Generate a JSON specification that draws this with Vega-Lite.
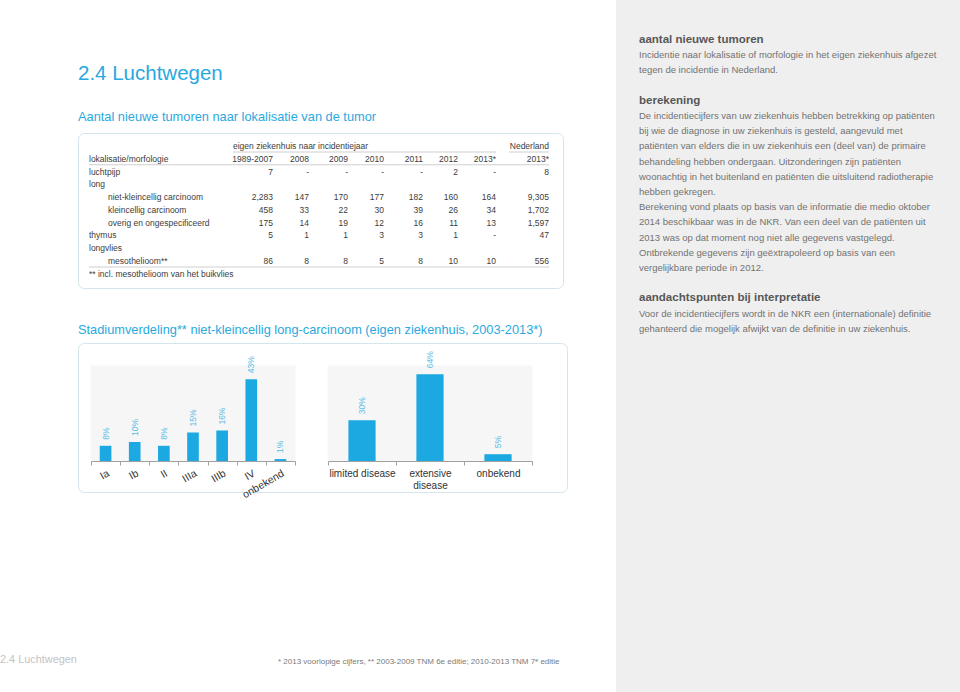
{
  "$schema": "https://vega.github.io/schema/vega-lite/v6.json",
  "padding": 0,
  "background": "#ffffff",
  "config": {"font": "Liberation Sans", "view": {"stroke": null}},
  "spacing": 0,
  "bounds": "full",
  "datasets": {
    "cells": [
      {"r": 0, "c": 1, "kind": "head", "t": "eigen ziekenhuis naar incidentiejaar"},
      {"r": 0, "c": 8, "kind": "num", "t": "Nederland"},
      {"r": 1, "c": 0, "kind": "label", "t": "lokalisatie/morfologie"},
      {"r": 1, "c": 1, "kind": "num", "t": "1989-2007"},
      {"r": 1, "c": 2, "kind": "num", "t": "2008"},
      {"r": 1, "c": 3, "kind": "num", "t": "2009"},
      {"r": 1, "c": 4, "kind": "num", "t": "2010"},
      {"r": 1, "c": 5, "kind": "num", "t": "2011"},
      {"r": 1, "c": 6, "kind": "num", "t": "2012"},
      {"r": 1, "c": 7, "kind": "num", "t": "2013*"},
      {"r": 1, "c": 8, "kind": "num", "t": "2013*"},
      {"r": 2, "c": 0, "kind": "label", "t": "luchtpijp"},
      {"r": 2, "c": 1, "kind": "num", "t": "7"},
      {"r": 2, "c": 2, "kind": "num", "t": "-"},
      {"r": 2, "c": 3, "kind": "num", "t": "-"},
      {"r": 2, "c": 4, "kind": "num", "t": "-"},
      {"r": 2, "c": 5, "kind": "num", "t": "-"},
      {"r": 2, "c": 6, "kind": "num", "t": "2"},
      {"r": 2, "c": 7, "kind": "num", "t": "-"},
      {"r": 2, "c": 8, "kind": "num", "t": "8"},
      {"r": 3, "c": 0, "kind": "label", "t": "long"},
      {"r": 4, "c": 0, "kind": "sub", "t": "niet-kleincellig carcinoom"},
      {"r": 4, "c": 1, "kind": "num", "t": "2,283"},
      {"r": 4, "c": 2, "kind": "num", "t": "147"},
      {"r": 4, "c": 3, "kind": "num", "t": "170"},
      {"r": 4, "c": 4, "kind": "num", "t": "177"},
      {"r": 4, "c": 5, "kind": "num", "t": "182"},
      {"r": 4, "c": 6, "kind": "num", "t": "160"},
      {"r": 4, "c": 7, "kind": "num", "t": "164"},
      {"r": 4, "c": 8, "kind": "num", "t": "9,305"},
      {"r": 5, "c": 0, "kind": "sub", "t": "kleincellig carcinoom"},
      {"r": 5, "c": 1, "kind": "num", "t": "458"},
      {"r": 5, "c": 2, "kind": "num", "t": "33"},
      {"r": 5, "c": 3, "kind": "num", "t": "22"},
      {"r": 5, "c": 4, "kind": "num", "t": "30"},
      {"r": 5, "c": 5, "kind": "num", "t": "39"},
      {"r": 5, "c": 6, "kind": "num", "t": "26"},
      {"r": 5, "c": 7, "kind": "num", "t": "34"},
      {"r": 5, "c": 8, "kind": "num", "t": "1,702"},
      {"r": 6, "c": 0, "kind": "sub", "t": "overig en ongespecificeerd"},
      {"r": 6, "c": 1, "kind": "num", "t": "175"},
      {"r": 6, "c": 2, "kind": "num", "t": "14"},
      {"r": 6, "c": 3, "kind": "num", "t": "19"},
      {"r": 6, "c": 4, "kind": "num", "t": "12"},
      {"r": 6, "c": 5, "kind": "num", "t": "16"},
      {"r": 6, "c": 6, "kind": "num", "t": "11"},
      {"r": 6, "c": 7, "kind": "num", "t": "13"},
      {"r": 6, "c": 8, "kind": "num", "t": "1,597"},
      {"r": 7, "c": 0, "kind": "label", "t": "thymus"},
      {"r": 7, "c": 1, "kind": "num", "t": "5"},
      {"r": 7, "c": 2, "kind": "num", "t": "1"},
      {"r": 7, "c": 3, "kind": "num", "t": "1"},
      {"r": 7, "c": 4, "kind": "num", "t": "3"},
      {"r": 7, "c": 5, "kind": "num", "t": "3"},
      {"r": 7, "c": 6, "kind": "num", "t": "1"},
      {"r": 7, "c": 7, "kind": "num", "t": "-"},
      {"r": 7, "c": 8, "kind": "num", "t": "47"},
      {"r": 8, "c": 0, "kind": "label", "t": "longvlies"},
      {"r": 9, "c": 0, "kind": "sub", "t": "mesothelioom**"},
      {"r": 9, "c": 1, "kind": "num", "t": "86"},
      {"r": 9, "c": 2, "kind": "num", "t": "8"},
      {"r": 9, "c": 3, "kind": "num", "t": "8"},
      {"r": 9, "c": 4, "kind": "num", "t": "5"},
      {"r": 9, "c": 5, "kind": "num", "t": "8"},
      {"r": 9, "c": 6, "kind": "num", "t": "10"},
      {"r": 9, "c": 7, "kind": "num", "t": "10"},
      {"r": 9, "c": 8, "kind": "num", "t": "556"},
      {"r": 10, "c": 0, "kind": "label", "t": "** incl. mesothelioom van het buikvlies"}
    ],
    "rules": [
      {"r": 0, "from": 1, "to": 7, "seg": "part"},
      {"r": 0, "from": 8, "to": 8, "seg": "part"},
      {"r": 1, "from": 0, "to": 8, "seg": "full"},
      {"r": 9, "from": 0, "to": 8, "seg": "full"}
    ],
    "stage": [
      {"stadium": "Ia", "share": 0.08},
      {"stadium": "Ib", "share": 0.10},
      {"stadium": "II", "share": 0.08},
      {"stadium": "IIIa", "share": 0.15},
      {"stadium": "IIIb", "share": 0.16},
      {"stadium": "IV", "share": 0.43},
      {"stadium": "onbekend", "share": 0.01}
    ],
    "sclc": [
      {"stadium": "limited disease", "share": 0.30},
      {"stadium": "extensive disease", "share": 0.64},
      {"stadium": "onbekend", "share": 0.05}
    ],
    "notes": [
      {"line": 0, "kind": "h", "text": "aantal nieuwe tumoren"},
      {"line": 1, "kind": "p", "text": "Incidentie naar lokalisatie of morfologie in het eigen ziekenhuis afgezet"},
      {"line": 2, "kind": "p", "text": "tegen de incidentie in Nederland."},
      {"line": 4, "kind": "h", "text": "berekening"},
      {"line": 5, "kind": "p", "text": "De incidentiecijfers van uw ziekenhuis hebben betrekking op patiënten"},
      {"line": 6, "kind": "p", "text": "bij wie de diagnose in uw ziekenhuis is gesteld, aangevuld met"},
      {"line": 7, "kind": "p", "text": "patiënten van elders die in uw ziekenhuis een (deel van) de primaire"},
      {"line": 8, "kind": "p", "text": "behandeling hebben ondergaan. Uitzonderingen zijn patiënten"},
      {"line": 9, "kind": "p", "text": "woonachtig in het buitenland en patiënten die uitsluitend radiotherapie"},
      {"line": 10, "kind": "p", "text": "hebben gekregen."},
      {"line": 11, "kind": "p", "text": "Berekening vond plaats op basis van de informatie die medio oktober"},
      {"line": 12, "kind": "p", "text": "2014 beschikbaar was in de NKR. Van een deel van de patiënten uit"},
      {"line": 13, "kind": "p", "text": "2013 was op dat moment nog niet alle gegevens vastgelegd."},
      {"line": 14, "kind": "p", "text": "Ontbrekende gegevens zijn geëxtrapoleerd op basis van een"},
      {"line": 15, "kind": "p", "text": "vergelijkbare periode in 2012."},
      {"line": 17, "kind": "h", "text": "aandachtspunten bij interpretatie"},
      {"line": 18, "kind": "p", "text": "Voor de incidentiecijfers wordt in de NKR een (internationale) definitie"},
      {"line": 19, "kind": "p", "text": "gehanteerd die mogelijk afwijkt van de definitie in uw ziekenhuis."}
    ]
  },
  "hconcat": [
    {
      "width": 77,
      "height": 692,
      "data": {"values": [{"text": "2.4 Luchtwegen"}]},
      "mark": {"type": "text", "align": "left", "baseline": "middle", "fontSize": 10.9, "color": "#c4c4c4"},
      "encoding": {"x": {"value": 0}, "y": {"value": 660}, "text": {"field": "text"}}
    },
    {
      "spacing": 0,
      "bounds": "flush",
      "vconcat": [
        {
          "width": 538,
          "height": 133,
          "layer": [
            {
              "data": {"values": [{"text": "2.4 Luchtwegen"}]},
              "mark": {"type": "text", "align": "left", "baseline": "middle", "fontSize": 20.5, "color": "#29a9e0"},
              "encoding": {"x": {"value": 0}, "y": {"value": 74}, "text": {"field": "text"}}
            },
            {
              "data": {"values": [{"text": "Aantal nieuwe tumoren naar lokalisatie van de tumor"}]},
              "mark": {"type": "text", "align": "left", "baseline": "middle", "fontSize": 12.8, "color": "#29a9e0"},
              "encoding": {"x": {"value": 0}, "y": {"value": 117}, "text": {"field": "text"}}
            }
          ]
        },
        {
          "width": 485,
          "height": 155,
          "view": {"stroke": "#d3e6eb", "strokeWidth": 1, "cornerRadius": 6},
          "layer": [
            {
              "data": {"name": "rules"},
              "transform": [{"filter": "datum.seg == 'full'"}],
              "mark": {"type": "rule", "color": "#cfcfcf", "strokeWidth": 1, "yOffset": 6},
              "encoding": {
                "x": {"field": "from", "type": "quantitative", "scale": {"domain": [0, 1, 2, 3, 4, 5, 6, 7, 8], "range": [11, 195, 231, 270, 306, 345, 380, 418, 471], "nice": false, "zero": false}, "axis": null},
                "x2": {"field": "to"},
                "y": {"field": "r", "type": "quantitative", "scale": {"domain": [0, 9], "range": [13, 128], "nice": false, "zero": false}, "axis": null}
              }
            },
            {
              "data": {"name": "rules"},
              "transform": [{"filter": "datum.seg == 'part'"}],
              "mark": {"type": "rule", "color": "#cfcfcf", "strokeWidth": 1, "yOffset": 6, "xOffset": -40},
              "encoding": {
                "x": {"field": "from", "type": "quantitative", "scale": {"domain": [0, 1, 2, 3, 4, 5, 6, 7, 8], "range": [11, 195, 231, 270, 306, 345, 380, 418, 471], "nice": false, "zero": false}, "axis": null},
                "x2": {"field": "to"},
                "y": {"field": "r", "type": "quantitative", "scale": {"domain": [0, 9], "range": [13, 128], "nice": false, "zero": false}, "axis": null}
              }
            },
            {
              "data": {"name": "cells"},
              "transform": [{"filter": "datum.kind == 'label'"}],
              "mark": {"type": "text", "align": "left", "baseline": "middle", "fontSize": 8.5, "color": "#3c3c3c"},
              "encoding": {
                "x": {"field": "c", "type": "quantitative", "scale": {"domain": [0, 1, 2, 3, 4, 5, 6, 7, 8], "range": [11, 195, 231, 270, 306, 345, 380, 418, 471], "nice": false, "zero": false}, "axis": null},
                "y": {"field": "r", "type": "quantitative", "scale": {"domain": [0, 9], "range": [13, 128], "nice": false, "zero": false}, "axis": null},
                "text": {"field": "t"}
              }
            },
            {
              "data": {"name": "cells"},
              "transform": [{"filter": "datum.kind == 'sub'"}],
              "mark": {"type": "text", "align": "left", "baseline": "middle", "fontSize": 8.5, "color": "#3c3c3c", "dx": 19},
              "encoding": {
                "x": {"field": "c", "type": "quantitative", "scale": {"domain": [0, 1, 2, 3, 4, 5, 6, 7, 8], "range": [11, 195, 231, 270, 306, 345, 380, 418, 471], "nice": false, "zero": false}, "axis": null},
                "y": {"field": "r", "type": "quantitative", "scale": {"domain": [0, 9], "range": [13, 128], "nice": false, "zero": false}, "axis": null},
                "text": {"field": "t"}
              }
            },
            {
              "data": {"name": "cells"},
              "transform": [{"filter": "datum.kind == 'head'"}],
              "mark": {"type": "text", "align": "left", "baseline": "middle", "fontSize": 8.5, "color": "#3c3c3c", "dx": -40},
              "encoding": {
                "x": {"field": "c", "type": "quantitative", "scale": {"domain": [0, 1, 2, 3, 4, 5, 6, 7, 8], "range": [11, 195, 231, 270, 306, 345, 380, 418, 471], "nice": false, "zero": false}, "axis": null},
                "y": {"field": "r", "type": "quantitative", "scale": {"domain": [0, 9], "range": [13, 128], "nice": false, "zero": false}, "axis": null},
                "text": {"field": "t"}
              }
            },
            {
              "data": {"name": "cells"},
              "transform": [{"filter": "datum.kind == 'num'"}],
              "mark": {"type": "text", "align": "right", "baseline": "middle", "fontSize": 8.5, "color": "#3c3c3c"},
              "encoding": {
                "x": {"field": "c", "type": "quantitative", "scale": {"domain": [0, 1, 2, 3, 4, 5, 6, 7, 8], "range": [11, 195, 231, 270, 306, 345, 380, 418, 471], "nice": false, "zero": false}, "axis": null},
                "y": {"field": "r", "type": "quantitative", "scale": {"domain": [0, 9], "range": [13, 128], "nice": false, "zero": false}, "axis": null},
                "text": {"field": "t"}
              }
            }
          ]
        },
        {
          "width": 538,
          "height": 55,
          "data": {"values": [{"text": "Stadiumverdeling** niet-kleincellig long-carcinoom (eigen ziekenhuis, 2003-2013*)"}]},
          "mark": {"type": "text", "align": "left", "baseline": "middle", "fontSize": 12.8, "color": "#29a9e0"},
          "encoding": {"x": {"value": 0}, "y": {"value": 42}, "text": {"field": "text"}}
        },
        {
          "width": 489,
          "height": 149,
          "view": {"stroke": "#d3e6eb", "strokeWidth": 1, "cornerRadius": 6},
          "resolve": {"scale": {"x": "independent", "y": "independent"}, "axis": {"x": "independent", "y": "independent"}},
          "layer": [
            {
              "data": {"name": "stage"},
              "encoding": {
                "x": {
                  "field": "stadium", "type": "nominal", "sort": null,
                  "scale": {"range": [13, 217], "paddingInner": 0, "paddingOuter": 0},
                  "axis": {"orient": "bottom", "offset": -31, "title": null, "zindex": 1, "labelAngle": -30, "labelAlign": "right", "labelBaseline": "top", "labelFontSize": 10.5, "labelColor": "#333333", "labelPadding": 3, "labelOverlap": false, "domainColor": "#a0a0a0", "tickColor": "#a0a0a0", "tickSize": 4, "tickBand": "extent"}
                }
              },
              "layer": [
                {
                  "mark": {"type": "rect", "color": "#f6f6f6", "stroke": "#f6f6f6", "strokeWidth": 1},
                  "encoding": {
                    "y": {"datum": 0.5, "type": "quantitative", "scale": {"domain": [0, 0.5], "range": [118, 23], "nice": false}, "axis": null},
                    "y2": {"datum": 0}
                  }
                },
                {
                  "mark": {"type": "bar", "color": "#1ca8e0", "width": {"band": 0.4}},
                  "encoding": {
                    "y": {"field": "share", "type": "quantitative", "scale": {"domain": [0, 0.5], "range": [118, 23], "nice": false}, "axis": null}
                  }
                },
                {
                  "mark": {"type": "text", "angle": 270, "align": "left", "baseline": "middle", "dx": 6, "fontSize": 8.5, "color": "#5cbde6"},
                  "encoding": {
                    "y": {"field": "share", "type": "quantitative", "scale": {"domain": [0, 0.5], "range": [118, 23], "nice": false}, "axis": null},
                    "text": {"field": "share", "type": "quantitative", "format": ".0%"}
                  }
                }
              ]
            },
            {
              "data": {"name": "sclc"},
              "encoding": {
                "x": {
                  "field": "stadium", "type": "nominal", "sort": null,
                  "scale": {"range": [250, 454], "paddingInner": 0, "paddingOuter": 0},
                  "axis": {"orient": "bottom", "offset": -31, "title": null, "zindex": 1, "labelAngle": 0, "labelAlign": "center", "labelBaseline": "top", "labelFontSize": 10, "labelColor": "#333333", "labelPadding": 3, "labelLineHeight": 12, "labelOverlap": false, "domainColor": "#a0a0a0", "tickColor": "#a0a0a0", "tickSize": 4, "tickBand": "extent", "labelExpr": "datum.label == 'extensive disease' ? ['extensive', 'disease'] : datum.label"}
                }
              },
              "layer": [
                {
                  "mark": {"type": "rect", "color": "#f6f6f6", "stroke": "#f6f6f6", "strokeWidth": 1},
                  "encoding": {
                    "y": {"datum": 0.7, "type": "quantitative", "scale": {"domain": [0, 0.7], "range": [118, 23], "nice": false}, "axis": null},
                    "y2": {"datum": 0}
                  }
                },
                {
                  "mark": {"type": "bar", "color": "#1ca8e0", "width": {"band": 0.4}},
                  "encoding": {
                    "y": {"field": "share", "type": "quantitative", "scale": {"domain": [0, 0.7], "range": [118, 23], "nice": false}, "axis": null}
                  }
                },
                {
                  "mark": {"type": "text", "angle": 270, "align": "left", "baseline": "middle", "dx": 6, "fontSize": 8.5, "color": "#5cbde6"},
                  "encoding": {
                    "y": {"field": "share", "type": "quantitative", "scale": {"domain": [0, 0.7], "range": [118, 23], "nice": false}, "axis": null},
                    "text": {"field": "share", "type": "quantitative", "format": ".0%"}
                  }
                }
              ]
            }
          ]
        },
        {
          "width": 538,
          "height": 200,
          "data": {"values": [{"text": "* 2013 voorlopige cijfers, ** 2003-2009 TNM 6e editie; 2010-2013 TNM 7ᵉ editie"}]},
          "mark": {"type": "text", "align": "left", "baseline": "middle", "fontSize": 8, "color": "#7a7a7a"},
          "encoding": {"x": {"value": 200}, "y": {"value": 170}, "text": {"field": "text"}}
        }
      ]
    },
    {
      "width": 345,
      "height": 692,
      "view": {"fill": "#efefef", "stroke": null},
      "data": {"name": "notes"},
      "encoding": {
        "x": {"value": 23},
        "y": {"field": "line", "type": "quantitative", "scale": {"domain": [0, 10], "range": [40, 192], "nice": false, "zero": false}, "axis": null},
        "text": {"field": "text"}
      },
      "layer": [
        {
          "transform": [{"filter": "datum.kind == 'h'"}],
          "mark": {"type": "text", "align": "left", "baseline": "middle", "fontSize": 11.5, "fontWeight": "bold", "color": "#575757"}
        },
        {
          "transform": [{"filter": "datum.kind == 'p'"}],
          "mark": {"type": "text", "align": "left", "baseline": "middle", "fontSize": 9.5, "color": "#727272"}
        }
      ]
    }
  ]
}
